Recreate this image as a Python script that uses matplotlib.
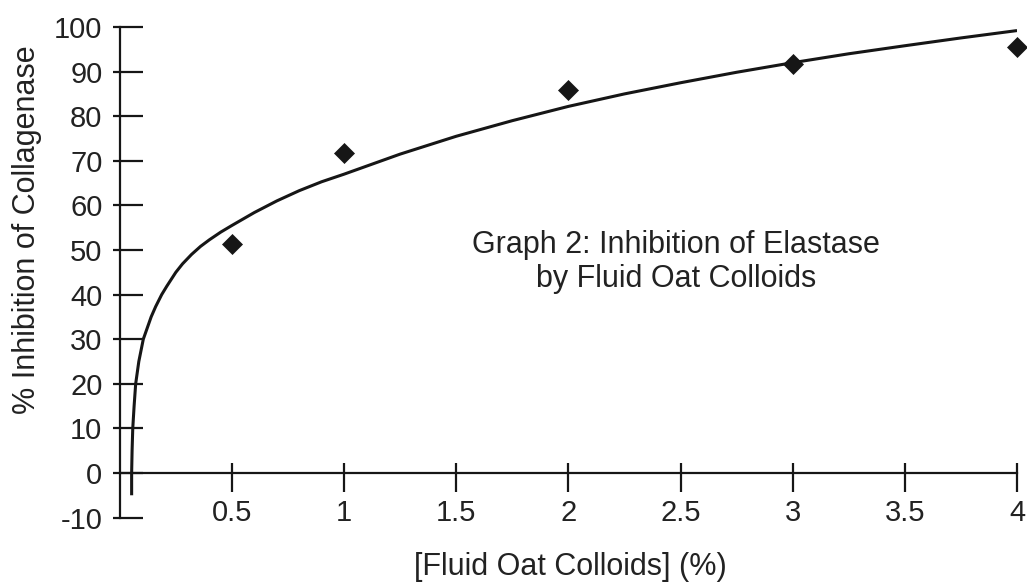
import matplotlib
matplotlib.use('Agg')
import matplotlib.pyplot as plt
from matplotlib.ticker import FixedLocator

plt.rcParams['font.family'] = ['Liberation Sans', 'DejaVu Sans']
plt.rcParams['axes.unicode_minus'] = False

# measured points
conc = [0.5, 1, 2, 3, 4]
inhibition = [51.3, 71.8, 85.9, 91.6, 95.6]

# trend curve
curve_x = [0.053, 0.053, 0.055, 0.058, 0.064, 0.071, 0.085, 0.105, 0.14, 0.16,
           0.187, 0.21, 0.25, 0.28, 0.32, 0.36, 0.4, 0.45, 0.5, 0.6, 0.7, 0.8,
           0.9, 1.0, 1.25, 1.5, 1.75, 2.0, 2.25, 2.5, 2.75, 3.0, 3.25, 3.5,
           3.75, 4.0]
curve_y = [-5, 0, 5, 10, 15, 20, 25, 30, 35, 37.3,
           40, 41.9, 45, 46.9, 49, 50.8, 52.3, 54.0, 55.5, 58.4, 61.0, 63.3,
           65.3, 67.0, 71.5, 75.5, 79.0, 82.2, 85.0, 87.5, 89.85, 92.0, 94.0, 95.8,
           97.55, 99.2]

x_ticks = [0.5, 1, 1.5, 2, 2.5, 3, 3.5, 4]
x_labels = ['0.5', '1', '1.5', '2', '2.5', '3', '3.5', '4']
y_ticks = [-10, 0, 10, 20, 30, 40, 50, 60, 70, 80, 90, 100]

ink = '#161616'

fig = plt.figure(figsize=(10.27, 5.82), dpi=100)
ax = fig.add_axes([0.1166, 0.1107, 0.8737, 0.8429])

ax.plot(curve_x, curve_y, color=ink, lw=2.2, solid_capstyle='butt',
        solid_joinstyle='round')
ax.plot(conc, inhibition, linestyle='none', marker='D', ms=10.5,
        color=ink, mec=ink, mew=0.5, clip_on=False)

ax.set_xlim(0, 4)
ax.set_ylim(-10, 100)

for side in ['top', 'right']:
    ax.spines[side].set_visible(False)
ax.spines['bottom'].set_position(('data', 0))
for side in ['left', 'bottom']:
    ax.spines[side].set_linewidth(1.6)
    ax.spines[side].set_color(ink)

# ticks cross the axis lines: long part inside (major), short stub outside (minor)
ax.xaxis.remove_overlapping_locs = False
ax.yaxis.remove_overlapping_locs = False
ax.set_xticks(x_ticks)
ax.set_xticklabels(x_labels)
ax.xaxis.set_minor_locator(FixedLocator(x_ticks))
ax.set_yticks(y_ticks)
ax.yaxis.set_minor_locator(FixedLocator(y_ticks))

ax.tick_params(axis='x', which='major', direction='in', length=7.2, width=1.6,
               color=ink, labelsize=21, labelcolor='#222222', pad=18.5)
ax.tick_params(axis='x', which='minor', direction='out', length=13.7, width=1.6,
               color=ink)
ax.tick_params(axis='y', which='major', direction='in', length=16.6, width=1.6,
               color=ink, labelsize=21, labelcolor='#222222', pad=12.5)
ax.tick_params(axis='y', which='minor', direction='out', length=5, width=1.6,
               color=ink)

ax.set_xlabel('[Fluid Oat Colloids] (%)', fontsize=22, color='#222222')
ax.xaxis.set_label_coords(0.502, -0.070)
ax.set_ylabel('% Inhibition of Collagenase', fontsize=22, color='#222222')
ax.yaxis.set_label_coords(-0.087, 0.586)

ax.text(2.479, 47.3, 'Graph 2: Inhibition of Elastase\nby Fluid Oat Colloids',
        ha='center', va='center', multialignment='center', fontsize=22,
        color='#222222', linespacing=1.15)

fig.savefig('out.png', dpi=100, facecolor='white')
